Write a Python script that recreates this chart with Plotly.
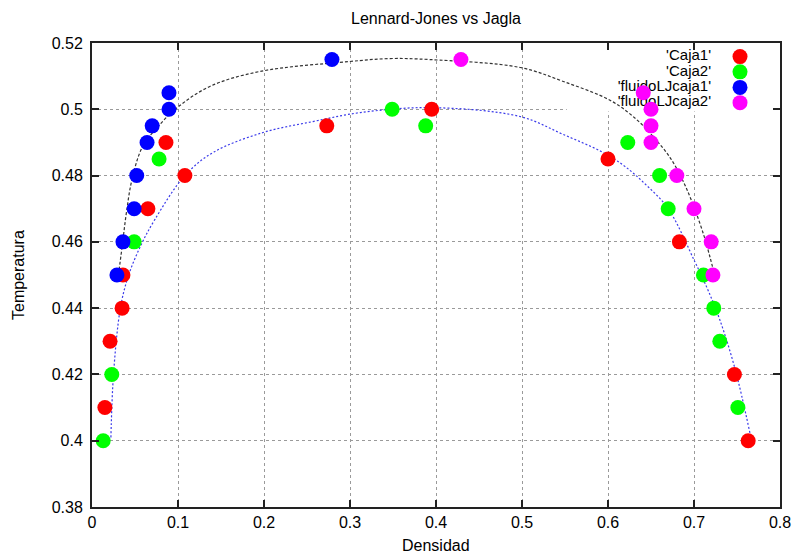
import plotly.graph_objects as go

# Simulation points: density vs temperature for each box / fluid
caja1_x = [0.015, 0.021, 0.035, 0.036, 0.065, 0.086, 0.108, 0.273, 0.395, 0.600, 0.683, 0.747, 0.763]
caja1_y = [0.41, 0.43, 0.44, 0.45, 0.47, 0.49, 0.48, 0.495, 0.50, 0.485, 0.46, 0.42, 0.40]

caja2_x = [0.013, 0.023, 0.049, 0.078, 0.349, 0.388, 0.623, 0.660, 0.670, 0.711, 0.723, 0.730, 0.751]
caja2_y = [0.40, 0.42, 0.46, 0.485, 0.50, 0.495, 0.49, 0.48, 0.47, 0.45, 0.44, 0.43, 0.41]

lj1_x = [0.029, 0.036, 0.049, 0.052, 0.064, 0.070, 0.0895, 0.0895, 0.279]
lj1_y = [0.45, 0.46, 0.47, 0.48, 0.49, 0.495, 0.50, 0.505, 0.515]

lj2_x = [0.429, 0.641, 0.650, 0.650, 0.650, 0.680, 0.700, 0.720, 0.722]
lj2_y = [0.515, 0.505, 0.50, 0.495, 0.49, 0.48, 0.47, 0.46, 0.45]

# Coexistence curves
curva_lj_x = [0.030, 0.035, 0.040, 0.0465, 0.059, 0.081, 0.099, 0.137, 0.195, 0.299, 0.3465,
              0.393, 0.498, 0.548, 0.604, 0.635, 0.655, 0.672, 0.687, 0.700, 0.712, 0.719, 0.722]
curva_lj_y = [0.4486, 0.4585, 0.4688, 0.4788, 0.4888, 0.496, 0.5005, 0.5069, 0.5114, 0.5144, 0.5153,
              0.515, 0.5126, 0.5084, 0.5025, 0.4965, 0.491, 0.4855, 0.4785, 0.4705, 0.4615, 0.455, 0.452]

curva_jagla_x = [0.022, 0.025, 0.033, 0.042, 0.056, 0.073, 0.108, 0.141, 0.199, 0.257, 0.312, 0.393,
                 0.498, 0.548, 0.594, 0.620, 0.645, 0.670, 0.701, 0.716, 0.730, 0.748, 0.765]
curva_jagla_y = [0.401, 0.42, 0.44, 0.4495, 0.4585, 0.4667, 0.480, 0.487, 0.493, 0.4963, 0.499, 0.5005,
                 0.4978, 0.4924, 0.487, 0.4827, 0.477, 0.470, 0.454, 0.4456, 0.4365, 0.4214, 0.4024]

x_ticks = [0, 0.1, 0.2, 0.3, 0.4, 0.5, 0.6, 0.7, 0.8]
x_labels = ["0", "0.1", "0.2", "0.3", "0.4", "0.5", "0.6", "0.7", "0.8"]
y_ticks = [0.38, 0.40, 0.42, 0.44, 0.46, 0.48, 0.50, 0.52]
y_labels = ["0.38", "0.4", "0.42", "0.44", "0.46", "0.48", "0.5", "0.52"]

series_names = ["'Caja1'", "'Caja2'", "'fluidoLJcaja1'", "'fluidoLJcaja2'"]
series_colors = ["#ff0000", "#00ff00", "#0000ff", "#ff00ff"]

FONT = "Liberation Sans, Arial, sans-serif"
FS = 16

fig = go.Figure()

fig.add_trace(go.Scatter(x=curva_lj_x, y=curva_lj_y, mode="lines", line_shape="spline",
                         line=dict(color="#333333", width=1.2, dash="3px,2px"),
                         showlegend=False, hoverinfo="skip"))
fig.add_trace(go.Scatter(x=curva_jagla_x, y=curva_jagla_y, mode="lines", line_shape="spline",
                         line=dict(color="#3b3bea", width=1.2, dash="2px,2px"),
                         showlegend=False, hoverinfo="skip"))

# key (text right-aligned, symbol to its right) placed in the upper right corner
key_rows = [0.5159, 0.5113, 0.5066, 0.5020]
key_text_x = 0.7198
key_mark_x = 0.7535
fig.add_trace(go.Scatter(x=[key_text_x] * 4, y=key_rows, mode="text", text=series_names,
                         textposition="middle left",
                         textfont=dict(family=FONT, size=15, color="#000000"),
                         showlegend=False, hoverinfo="skip"))

for xs, ys, name, col in zip([caja1_x, caja2_x, lj1_x, lj2_x], [caja1_y, caja2_y, lj1_y, lj2_y],
                             series_names, series_colors):
    fig.add_trace(go.Scatter(x=xs, y=ys, mode="markers", name=name,
                             marker=dict(color=col, size=15, line=dict(width=0)),
                             showlegend=False))

fig.add_trace(go.Scatter(x=[key_mark_x] * 4, y=key_rows, mode="markers",
                         marker=dict(color=series_colors, size=15, line=dict(width=0)),
                         showlegend=False, hoverinfo="skip"))

# opaque key box hides the grid behind it
fig.add_shape(type="rect", xref="x", yref="y", x0=0.552, x1=0.8, y0=0.4993, y1=0.52,
              fillcolor="white", line=dict(width=0), layer="between")

axis_common = dict(showline=True, linecolor="#222222", linewidth=2, mirror="ticks",
                   ticks="inside", ticklen=7, tickwidth=2, tickcolor="#222222",
                   showgrid=True, gridcolor="#9a9a9a", gridwidth=1, griddash="dot",
                   zeroline=False, automargin=False,
                   tickfont=dict(family=FONT, size=FS, color="#000000"))

fig.update_xaxes(range=[0, 0.8], tickvals=x_ticks, ticktext=x_labels, ticklabelstandoff=0,
                 **axis_common)
fig.update_yaxes(range=[0.38, 0.52], tickvals=y_ticks, ticktext=y_labels, ticklabelstandoff=4,
                 **axis_common)

fig.update_layout(
    width=795, height=555,
    margin=dict(l=92, r=15, t=43, b=48),
    paper_bgcolor="white", plot_bgcolor="white",
    title=dict(text="Lennard-Jones vs Jagla", x=0.5, xref="paper", xanchor="center",
               y=1 - 18 / 555, yanchor="middle",
               font=dict(family=FONT, size=FS, color="#000000")),
    annotations=[
        dict(text="Densidad", xref="paper", yref="paper", x=0.5, y=0, yshift=-38,
             xanchor="center", yanchor="middle", showarrow=False,
             font=dict(family=FONT, size=FS, color="#000000")),
        dict(text="Temperatura", xref="paper", yref="paper", x=0, y=0.5, xshift=-74,
             xanchor="center", yanchor="middle", textangle=-90, showarrow=False,
             font=dict(family=FONT, size=FS, color="#000000")),
    ],
)

fig.write_html("out.html")
